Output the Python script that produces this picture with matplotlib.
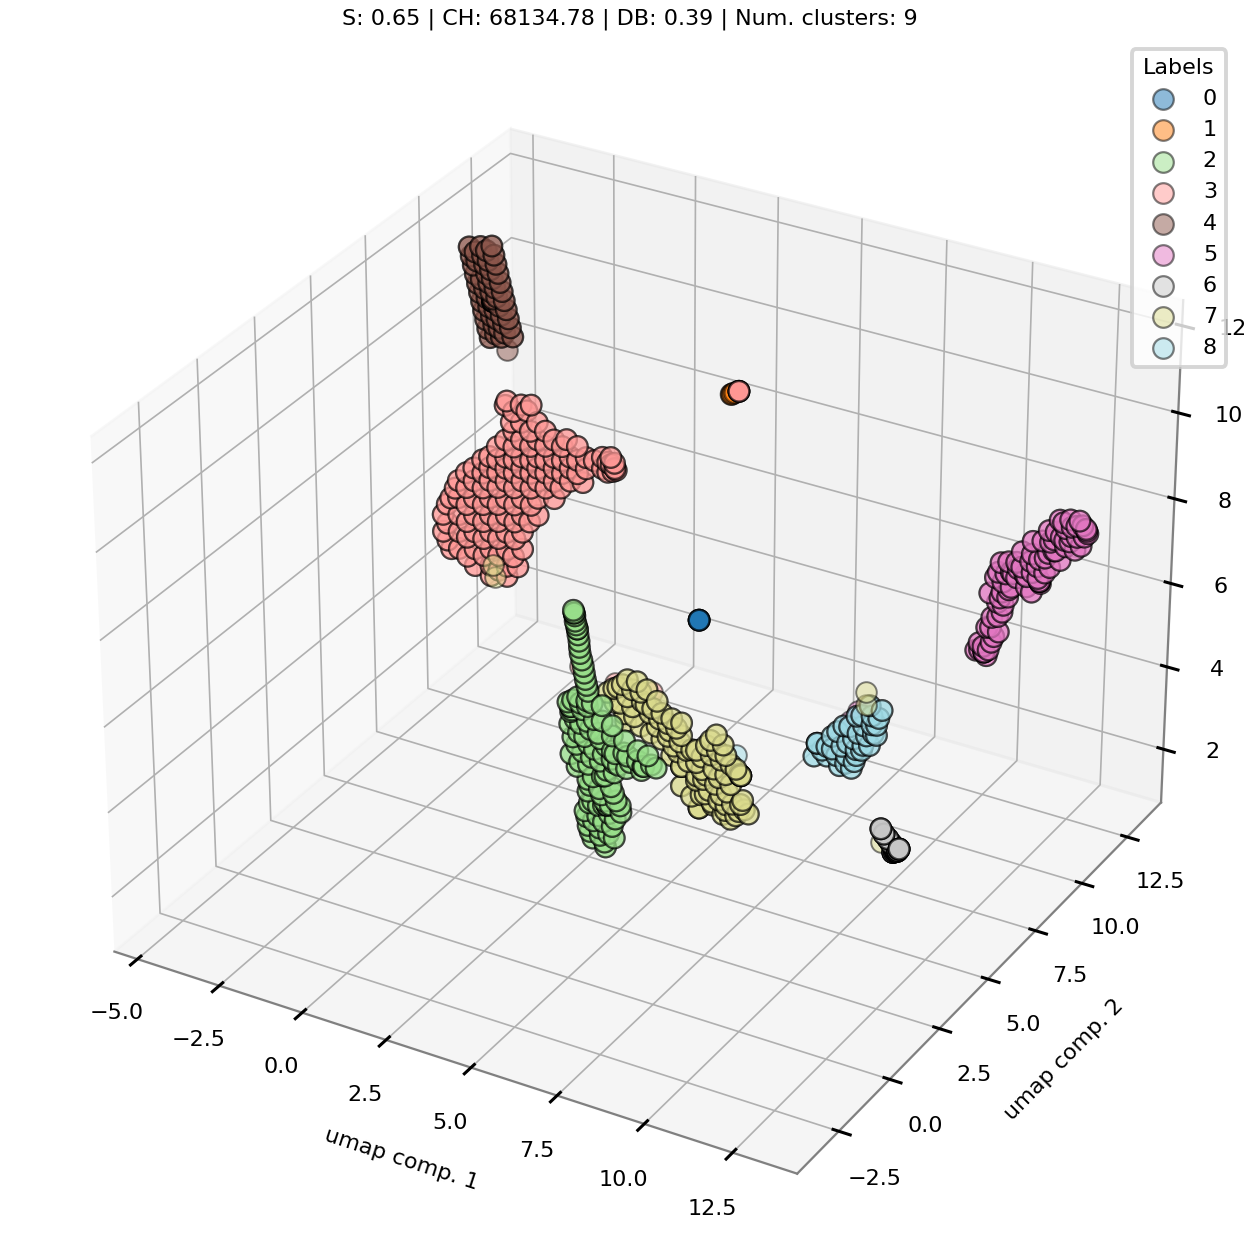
import matplotlib
matplotlib.use("Agg")
import matplotlib.pyplot as plt
import numpy as np
from matplotlib.ticker import MultipleLocator

plt.rcParams['font.size'] = 8
plt.rcParams['axes.titlesize'] = 8
plt.rcParams['axes.labelsize'] = 8
plt.rcParams['legend.title_fontsize'] = 8
plt.rcParams['xtick.major.width'] = 1.1
plt.rcParams['ytick.major.width'] = 1.1
plt.rcParams['grid.linewidth'] = 0.6

colors = ['#1f77b4', '#ff7f0e', '#98df8a', '#ff9896', '#8c564b', '#e377c2', '#c7c7c7', '#dbdb8d', '#9edae5']
labels = ['0', '1', '2', '3', '4', '5', '6', '7', '8']
depth = [5.0, 8.0, 3.0, 6.0, 10.0, 11.0, 2.0, 4.0, 8.0]
# the real clusters hold far more samples, each listed position stands for this many
weight = [1, 1, 2, 2, 2, 2, 4, 2, 2]

# (comp 1, comp 3), comp 2 is one value per cluster
c0 = [(5.8, 7.115), (5.8, 7.115), (5.8, 7.115), (5.8, 7.115), (5.8, 7.115), (5.8, 7.115)]
c1 = [(4.91, 10.92), (4.92, 10.92), (4.94, 10.93), (4.98, 10.96), (5.02, 10.98)]
c2 = [(3.36, 7.56), (3.36, 7.56), (3.39, 7.38), (3.45, 7.21), (3.45, 7.21), (3.5, 6.94), (3.53, 6.66), (3.62, 6.38),
      (3.68, 6.09), (3.76, 5.83), (3.16, 5.44), (3.45, 5.63), (3.24, 5.23), (3.59, 5.36), (3.88, 5.58), (3.21, 4.94),
      (3.53, 5.02), (3.94, 5.21), (3.3, 4.65), (3.65, 4.74), (4.05, 4.91), (3.24, 4.24), (3.59, 4.37), (3.94, 4.51),
      (4.29, 4.67), (3.42, 3.98), (3.76, 4.11), (4.11, 4.27), (4.46, 4.4), (4.81, 4.63), (5.21, 4.54), (5.62, 4.54),
      (5.33, 4.34), (4.89, 4.28), (5.76, 4.5), (4.52, 4.09), (4.17, 3.93), (3.74, 3.75), (3.74, 3.47), (4.08, 3.61),
      (4.43, 3.74), (3.88, 3.27), (4.23, 3.35), (4.58, 3.44), (3.65, 2.98), (4.03, 2.95), (4.37, 3.09), (4.72, 3.2),
      (3.74, 2.65), (4.08, 2.67), (4.46, 2.8), (3.88, 2.38), (4.23, 2.37), (4.52, 2.54), (4.26, 2.26), (3.24, 5.35),
      (3.24, 5.35), (4.31, 3.27), (4.31, 3.27), (3.34, 7.62), (3.38, 7.5), (3.42, 7.3), (3.47, 7.08), (3.51, 6.8),
      (3.58, 6.52), (3.65, 6.23), (3.72, 5.96), (3.3, 5.52), (3.52, 5.5), (3.74, 5.47), (3.28, 5.28), (3.37, 5.09),
      (3.73, 5.12), (3.47, 4.8), (3.82, 4.95), (3.41, 4.5), (3.76, 4.6), (4.12, 4.8), (3.5, 4.12), (3.85, 4.3),
      (4.2, 4.45), (4.55, 4.55), (4.65, 4.3), (5.0, 4.45), (5.4, 4.45), (4.3, 4.1), (3.9, 3.85), (4.25, 3.95),
      (3.8, 3.62), (4.15, 3.48), (4.5, 3.6), (3.78, 3.2), (4.05, 3.2), (4.4, 3.3), (4.7, 3.35), (3.7, 2.85), (3.9, 2.8),
      (4.2, 2.85), (4.55, 3.0), (3.8, 2.52), (4.1, 2.5), (4.35, 2.6), (4.2, 3.25), (4.47, 4.95), (4.83, 4.92), (5.22, 4.78),
      (5.52, 4.73), (4.47, 4.59), (4.92, 4.58), (4.17, 5.23), (4.47, 5.19), (4.17, 5.59), (3.72, 5.6), (4.53, 4.32),
      (5.37, 4.45)]
c3 = [(-0.55, 10.29), (-0.07, 10.4), (0.23, 10.46), (-0.37, 9.94), (-0.07, 10.0), (0.41, 10.1), (-0.55, 9.49), (-0.07, 9.6),
      (0.41, 9.7), (0.9, 9.8), (1.28, 9.89), (-1.04, 9.0), (-0.55, 9.09), (-0.07, 9.2), (0.41, 9.3), (0.9, 9.4), (1.38, 9.51),
      (1.86, 9.6), (2.34, 9.71), (2.59, 9.76), (-1.52, 8.63), (-1.04, 8.74), (-0.55, 8.83), (-0.07, 8.94), (0.41, 9.04),
      (0.9, 9.14), (1.38, 9.25), (1.86, 9.34), (2.34, 9.45), (2.71, 9.53), (-2.0, 8.23), (-1.52, 8.33), (-1.04, 8.44),
      (-0.55, 8.53), (-0.07, 8.64), (0.41, 8.74), (0.9, 8.84), (1.38, 8.95), (1.76, 9.0), (-2.24, 7.77), (-2.0, 7.83),
      (-1.52, 7.93), (-1.04, 8.04), (-0.55, 8.13), (-0.07, 8.24), (0.41, 8.34), (0.9, 8.44), (-2.48, 7.33), (-2.0, 7.43),
      (-1.52, 7.53), (-1.04, 7.64), (-0.55, 7.73), (-0.07, 7.84), (0.41, 7.94), (-2.48, 6.93), (-2.0, 7.03), (-1.52, 7.13),
      (-1.04, 7.24), (-0.55, 7.33), (-0.07, 7.44), (-2.24, 6.57), (-2.0, 6.63), (-1.52, 6.73), (-1.04, 6.84), (-0.55, 6.93),
      (-0.07, 7.04), (-1.52, 6.33), (-1.04, 6.44), (-0.55, 6.53), (-0.22, 6.59), (-1.04, 6.2), (-0.55, 6.29), (6.32, 12.06),
      (6.32, 12.06), (6.32, 12.06), (-0.3, 9.75), (0.2, 9.85), (0.65, 9.95),
      (-0.8, 9.28), (-0.3, 9.38), (0.2, 9.5), (0.65, 9.6), (1.15, 9.7), (1.6, 9.8), (-1.25, 8.88), (-0.8, 8.98), (-0.3, 9.08),
      (0.2, 9.18), (0.65, 9.28), (1.15, 9.38), (1.6, 9.48), (2.1, 9.58), (2.5, 9.63), (-1.75, 8.47), (-1.25, 8.57),
      (-0.8, 8.68), (-0.3, 8.78), (0.2, 8.88), (0.65, 8.98), (1.15, 9.08), (1.6, 9.17), (-2.1, 8.03), (-1.75, 8.12),
      (-1.25, 8.22), (-0.8, 8.33), (-0.3, 8.43), (0.2, 8.53), (0.65, 8.63), (1.1, 8.73), (-2.35, 7.6), (-1.75, 7.72),
      (-1.25, 7.83), (-0.8, 7.93), (-0.3, 8.03), (0.2, 8.13), (-2.35, 7.15), (-1.75, 7.32), (-1.25, 7.43), (-0.8, 7.53),
      (-0.3, 7.63), (0.15, 7.73), (-2.35, 6.75), (-1.75, 6.95), (-1.25, 7.03), (-0.8, 7.13), (-0.3, 7.23), (-1.75, 6.5),
      (-1.25, 6.63), (-0.8, 6.73), (-0.35, 6.8), (-0.8, 6.38), (2.6, 9.6), (2.7, 9.65), (2.75, 9.5), (2.65, 9.45), (2.5, 9.4),
      (-0.3, 10.2), (0.1, 10.3), (-0.5, 10.4)]
c4 = [(-4.18, 11.7), (-3.83, 11.78), (-3.48, 11.86), (-4.12, 11.5), (-3.77, 11.58), (-3.42, 11.66), (-4.06, 11.3),
      (-3.71, 11.38), (-3.36, 11.46), (-4.0, 11.1), (-3.65, 11.18), (-3.3, 11.26), (-3.94, 10.9), (-3.59, 10.98),
      (-3.24, 11.06), (-3.88, 10.7), (-3.53, 10.78), (-3.18, 10.86), (-3.82, 10.5), (-3.47, 10.58), (-3.12, 10.66),
      (-3.76, 10.3), (-3.41, 10.38), (-3.06, 10.46), (-3.7, 10.1), (-3.35, 10.18), (-3.0, 10.26), (-3.64, 9.9), (-3.29, 9.98),
      (-2.94, 10.06), (-3.57, 9.7), (-3.22, 9.78), (-2.87, 9.86), (-3.48, 10.57), (-3.48, 10.57), (-3.48, 10.57),
      (-3.46, 10.59), (-3.46, 10.63), (-4.0, 11.62), (-3.65, 11.72), (-3.95, 11.42), (-3.6, 11.5),
      (-3.53, 11.3), (-3.48, 11.1), (-3.82, 11.02), (-3.4, 10.9), (-3.72, 10.82), (-3.35, 10.7), (-3.65, 10.62), (-3.28, 10.5),
      (-3.6, 10.42), (-3.22, 10.3), (-3.52, 10.22), (-3.15, 10.12), (-3.45, 10.02), (-3.12, 9.9), (-3.4, 9.82)]
c5 = [(10.49, 4.96), (10.73, 4.97), (10.73, 4.97), (10.73, 4.97), (10.93, 5.25), (11.13, 5.54), (10.58, 5.16), (10.79, 5.57),
      (10.93, 5.84), (11.22, 6.03), (11.08, 6.23), (11.37, 6.42), (11.46, 6.67), (11.22, 6.74), (11.08, 6.94), (11.37, 7.25),
      (11.75, 7.21), (11.61, 6.93), (11.9, 6.78), (12.27, 6.99), (12.27, 6.99), (12.27, 6.99), (12.19, 7.32), (12.41, 7.57),
      (12.55, 7.97), (12.7, 8.24), (12.98, 8.38), (13.28, 8.5), (13.57, 8.45), (13.42, 8.07), (12.98, 7.96), (12.84, 7.61),
      (12.55, 7.38), (13.13, 8.23), (12.33, 7.95), (12.04, 7.58), (12.41, 7.22), (13.36, 8.64),
      (10.6, 5.0), (10.85, 5.05), (10.7, 5.1), (10.8, 4.9), (11.0, 5.4), (10.9, 5.6), (11.1, 5.9), (11.25, 6.2),
      (11.2, 6.5), (11.4, 6.6), (11.3, 6.95), (11.5, 7.0), (11.65, 7.15), (11.85, 7.05), (12.05, 7.15), (12.22, 7.05),
      (12.3, 6.95), (12.0, 7.4), (12.25, 7.5), (12.5, 7.7), (12.7, 7.8), (12.65, 8.05), (12.85, 8.15), (13.1, 8.1), (13.3, 8.25),
      (13.5, 8.3), (13.15, 8.45), (12.9, 8.5), (13.45, 8.55), (13.6, 8.4), (12.5, 8.23), (12.8, 8.54), (13.1, 8.61), (12.65, 7.79),
      (13.25, 7.94), (12.95, 8.1), (12.05, 7.88), (11.75, 7.57), (11.15, 7.18), (11.0, 6.8), (11.45, 7.03), (12.05, 6.69),
      (11.9, 7.02), (10.85, 6.4), (11.15, 6.35), (13.55, 8.49), (11.6, 7.29)]
c6 = [(12.81, 5.235), (12.9, 5.135), (13.01, 5.055), (13.1, 4.975), (13.19, 4.905), (13.27, 4.825), (13.33, 4.895),
      (13.16, 4.775), (13.27, 4.825), (13.33, 4.895), (13.16, 4.775), (13.23, 4.845), (13.23, 4.82), (13.28, 4.86), (13.2, 4.8),
      (13.3, 4.85)]
c7 = [(3.72, 5.37), (4.02, 5.56), (4.3, 5.8), (4.59, 5.82), (4.88, 5.7), (3.93, 5.18), (4.3, 5.4), (4.74, 5.39), (4.22, 4.98),
      (4.51, 4.98), (4.97, 5.17), (5.18, 5.5), (5.32, 5.25), (5.61, 5.19), (5.9, 5.16), (5.18, 4.91), (5.55, 4.89), (5.9, 4.86),
      (5.32, 4.64), (5.67, 4.56), (6.05, 4.55), (6.34, 4.62), (5.61, 4.32), (5.9, 4.13), (5.9, 4.13), (6.34, 4.33), (6.63, 4.8),
      (6.92, 5.12), (7.12, 4.93), (6.77, 4.61), (7.06, 4.56), (7.35, 4.52), (7.64, 4.33), (7.64, 4.33), (7.64, 4.33), (6.63, 4.1),
      (7.0, 4.13), (7.35, 4.05), (6.34, 3.91), (6.71, 3.76), (7.06, 3.74), (6.48, 3.6), (6.42, 3.27), (6.42, 3.27), (6.83, 3.44),
      (7.21, 3.54), (7.58, 3.47), (7.87, 3.48), (7.35, 3.23), (7.64, 3.65), (7.12, 3.29), (3.9, 5.5), (4.15, 5.65), (4.45, 5.6),
      (4.7, 5.6), (4.1, 5.2), (4.45, 5.2), (4.85, 5.35), (5.05, 5.3), (5.25, 5.1), (5.5, 5.05), (5.75, 5.0), (5.5, 4.75), (5.85, 4.7),
      (6.2, 4.6), (5.8, 4.45), (6.1, 4.3), (6.5, 4.5), (6.75, 4.95), (6.95, 4.75), (7.2, 4.7), (7.5, 4.45), (7.6, 4.35), (6.5, 4.2),
      (6.85, 4.3), (7.2, 4.25), (6.55, 3.98), (6.9, 3.95), (7.25, 3.85), (6.6, 3.65), (7.0, 3.6), (7.4, 3.6), (7.75, 3.55), (7.5, 3.35),
      (7.2, 3.4), (6.8, 3.5), (4.25, 4.81), (4.7, 4.8), (5.0, 4.71), (6.35, 4.02), (7.7, 3.76), (6.2, 3.5), (5.9, 3.67)]
c8 = [(7.55, 3.33), (7.55, 3.33), (7.46, 3.0), (7.84, 3.09), (8.22, 2.95), (8.57, 2.97), (8.71, 3.31), (9.09, 3.64), (9.29, 4.17),
      (9.44, 4.56), (9.09, 4.59), (8.71, 4.25), (8.33, 3.93), (7.99, 3.6), (8.28, 3.43), (8.62, 3.69), (8.91, 4.07), (9.15, 4.36),
      (8.42, 3.24), (7.84, 3.32), (8.13, 3.17), (8.86, 3.47), (9.29, 3.93), (7.7, 3.2), (8.0, 3.3), (8.4, 3.05),
      (8.65, 3.15), (8.9, 3.6), (9.2, 3.95), (9.35, 4.35), (9.15, 4.15), (8.85, 4.3), (8.5, 3.95), (8.15, 3.75), (8.45, 3.55),
      (8.75, 3.85), (9.0, 3.85), (8.7, 3.45)]
clusters = [c0, c1, c2, c3, c4, c5, c6, c7, c8]

# pale single samples lying away from their cluster
strays3 = [(1.64, 4.65), (2.71, 4.5), (3.81, 4.54)]
strays4 = [(-3.04, 9.51)]
strays5 = [(6.82, 2.39), (7.05, 2.68), (7.34, 2.88)]
strays7 = [(0.37, 7.305), (0.32, 7.585), (11.2, 7.125), (11.2, 6.815), (11.72, 3.75)]
strays8 = [(5.14, 2.46)]
strays = {3: strays3, 4: strays4, 5: strays5, 7: strays7, 8: strays8}

fig = plt.figure(figsize=(6.3, 6.3), dpi=200)
ax = fig.add_axes([0, -14 / 1260, 1, 1], projection='3d')
ax.set_box_aspect((4, 4, 3), zoom=0.965)
for i in range(9):
    pts = np.array(clusters[i] * weight[i])
    ax.scatter(pts[:, 0], np.full(len(pts), depth[i]), pts[:, 1], color=colors[i], s=55, alpha=0.5,
               edgecolor='k', linewidths=0.8, label=labels[i])
    if i in strays:
        pts = np.array(strays[i])
        ax.scatter(pts[:, 0], np.full(len(pts), depth[i]), pts[:, 1], color=colors[i], s=55, alpha=0.5,
                   edgecolor='k', linewidths=0.7, depthshade=False)
ax.set_xlim(-5.71, 14.31)
ax.set_ylim(-4.5, 14.4)
ax.set_zlim(0.69, 12.58)
ax.xaxis.set_major_locator(MultipleLocator(2.5))
ax.yaxis.set_major_locator(MultipleLocator(2.5))
ax.zaxis.set_major_locator(MultipleLocator(2))
ax.tick_params(axis='x', pad=4)
ax.tick_params(axis='y', pad=4)
for a in (ax.xaxis, ax.yaxis, ax.zaxis):
    a.line.set_color('gray')
ax.set_xlabel('umap comp. 1', labelpad=5.5)
ax.set_ylabel('umap comp. 2', labelpad=5.5)
ax.set_title('S: 0.65 | CH: 68134.78 | DB: 0.39 | Num. clusters: 9', y=1.0636)
leg = ax.legend(title='Labels', loc='upper right', bbox_to_anchor=(0.973, 0.961), bbox_transform=fig.transFigure, borderaxespad=0)
leg.get_frame().set_linewidth(1.4)
plt.savefig('out.png')
